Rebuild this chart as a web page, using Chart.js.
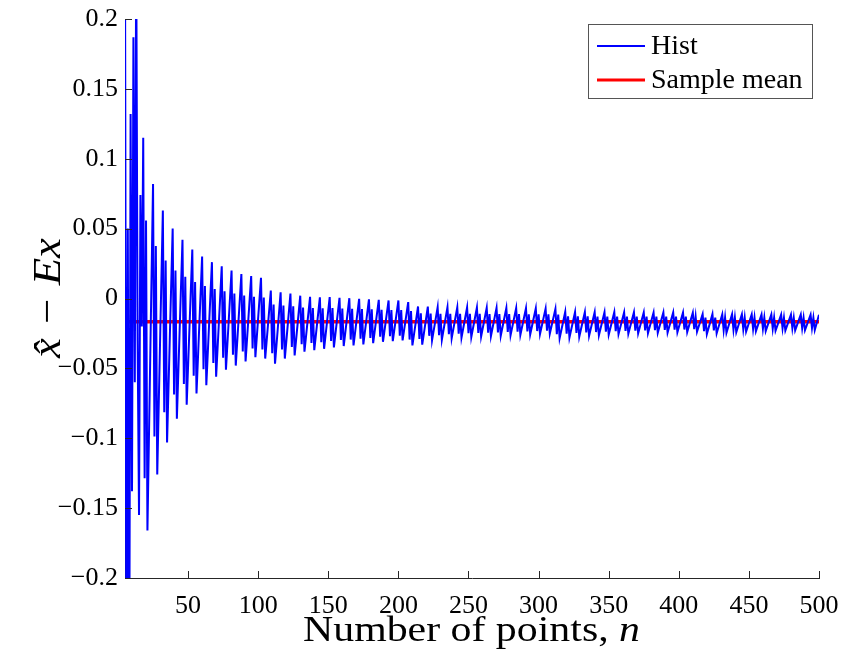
<!DOCTYPE html>
<html><head><meta charset="utf-8">
<script src="https://cdn.jsdelivr.net/npm/chart.js@4/dist/chart.umd.min.js"></script>
<style>html,body{margin:0;padding:0;background:#fff;}canvas{display:block;}</style>
</head><body>
<canvas id="c" width="846" height="651"></canvas>
<script>
// ---- data ----
const xTicks = [50,100,150,200,250,300,350,400,450,500];
const yTicks = [-0.2,-0.15,-0.1,-0.05,0,0.05,0.1,0.15,0.2];
const yTickLabels = ['\u22120.2','\u22120.15','\u22120.1','\u22120.05','0','0.05','0.1','0.15','0.2'];

// first, wild part (n = 5..17)
const earlyN   = [5,6,7,8,9,10,11,12,13,14,15,16,17];
const earlyVal = [0.25,-0.3,0.05,-0.3,0.132,-0.138,0.187,-0.06,0.25,-0.03,-0.155,0.074,-0.02];

// tall upward spike of each oscillation
const peakN = [18,25,32,39,46,53,60,67,74,81,88,95,102,109,116,123,130,137,144,151,158,165,172,179,186,193,200,207,214,221,228,235,242,249,256,263,270,277,284,291,298,305,312,319,326,333,340,347,354,361,368,375,382,389,396,403,410,417,424,431,438,445,452,459,466,473,480,487,494];
const peakVal = [0.115,0.082,0.063,0.050,0.042,0.035,0.030,0.026,0.023,0.020,0.0175,0.016,0.0148,
  0.0057,0.0045,0.0035,0.0020,0.0012,0.0008,0.0010,0.0005,0.0002,-0.0002,-0.0006,-0.0010,-0.0014,-0.0014,-0.0026,
  -0.0057,-0.0058,-0.0062,-0.0062,-0.0063,-0.0064,-0.0065,-0.0066,-0.0067,-0.0068,-0.0069,-0.0070,-0.0071,-0.0072,-0.0074,
  -0.0096,-0.0097,-0.0097,-0.0098,-0.0098,-0.0098,-0.0099,-0.0099,-0.0099,-0.0100,-0.0100,-0.0100,-0.0101,-0.0101,
  -0.0112,-0.0112,-0.0113,-0.0113,-0.0113,-0.0114,-0.0114,-0.0114,-0.0115,-0.0115,-0.0115,-0.0116];

// short dip right after each spike
const dipN = [19,26,33,40,47,54,61,68,75,82,89,96,103,110,117,124,131,138,145,152,159,166,173,180,187,194,201,208,215,222,229,236,243,250,257,264,271,278,285,292,299,306,313,320,327,334,341,348,355,362,369,376,383,390,397,404,411,418,425,432,439,446,453,460,467,474,481,488,495];
const dipVal = [-0.1287,-0.0987,-0.0814,-0.0687,-0.0612,-0.0552,-0.0507,-0.0462,-0.0424,-0.0402,-0.0379,-0.0357,-0.0364,
  -0.0392,-0.0364,-0.0347,-0.0327,-0.0319,-0.0312,-0.0304,-0.0297,-0.0294,-0.0288,-0.0282,-0.0274,-0.0270,-0.0267,
  -0.0294,-0.0289,-0.0267,-0.0263,-0.0255,-0.0252,-0.0249,-0.0246,-0.0244,-0.0242,-0.0240,-0.0237,-0.0235,-0.0233,-0.0231,
  -0.0255,-0.0252,-0.0247,-0.0243,-0.0240,-0.0237,-0.0234,-0.0232,-0.0230,-0.0228,-0.0226,-0.0225,-0.0223,-0.0222,-0.0220,
  -0.0233,-0.0229,-0.0226,-0.0223,-0.0220,-0.0218,-0.0216,-0.0215,-0.0213,-0.0212,-0.0212,-0.0211];

// lower upward shoulder next to each spike
const shoulderN = [20,27,34,41,48,55,62,69,76,83,90,97,104,111,118,125,132,139,146,153,160,167,174,181,188,195,202,209,216,223,230,237,244,251,258,265,272,279,286,293,300,307,314,321,328,335,342,349,356,363,370,377,384,391,398,405,412,419,426,433,440,447,454,461,468,475,482,489,496];
const shoulderVal = [0.0558,0.0376,0.0272,0.0200,0.0156,0.0118,0.0090,0.0068,0.0052,0.0035,0.0022,0.0013,0.0007,
  -0.0043,-0.0050,-0.0055,-0.0064,-0.0068,-0.0070,-0.0069,-0.0072,-0.0074,-0.0076,-0.0078,-0.0080,-0.0082,-0.0082,-0.0089,
  -0.0106,-0.0107,-0.0109,-0.0109,-0.0109,-0.0110,-0.0110,-0.0111,-0.0111,-0.0112,-0.0112,-0.0113,-0.0113,-0.0114,-0.0115,
  -0.0128,-0.0128,-0.0128,-0.0129,-0.0129,-0.0129,-0.0129,-0.0129,-0.0129,-0.0130,-0.0130,-0.0130,-0.0130,-0.0130,
  -0.0136,-0.0136,-0.0137,-0.0137,-0.0137,-0.0137,-0.0137,-0.0137,-0.0138,-0.0138,-0.0138,-0.0138];

// deepest point of each oscillation
const troughN = [21,28,35,42,49,56,63,70,77,84,91,98,105,112,119,126,133,140,147,154,161,168,175,182,189,196,203,210,217,224,231,238,245,252,259,266,273,280,287,294,301,308,315,322,329,336,343,350,357,364,371,378,385,392,399,406,413,420,427,434,441,448,455,462,469,476,483,490,497];
const troughVal = [-0.166,-0.126,-0.103,-0.086,-0.076,-0.068,-0.062,-0.056,-0.051,-0.048,-0.045,-0.042,-0.043,
  -0.0467,-0.043,-0.0407,-0.038,-0.037,-0.036,-0.035,-0.034,-0.0336,-0.0329,-0.032,-0.031,-0.0305,-0.030,
  -0.0336,-0.0330,-0.0300,-0.0295,-0.0285,-0.0280,-0.0276,-0.0272,-0.0270,-0.0267,-0.0264,-0.0261,-0.0258,-0.0255,-0.0252,
  -0.0285,-0.0280,-0.0274,-0.0268,-0.0264,-0.0260,-0.0256,-0.0253,-0.0250,-0.0248,-0.0246,-0.0244,-0.0242,-0.0240,-0.0238,
  -0.0255,-0.0250,-0.0246,-0.0242,-0.0238,-0.0235,-0.0233,-0.0231,-0.0229,-0.0228,-0.0227,-0.0226];

const endN = [500];
const endVal = [-0.0116];

const meanN = [5,500];
const meanVal = [-0.0166,-0.0166];

// ---- build datasets ----
const hist = [];
const addPts = (ns,vs)=>ns.forEach((n,i)=>hist.push({x:n,y:vs[i]}));
addPts(earlyN,earlyVal); addPts(peakN,peakVal); addPts(dipN,dipVal);
addPts(shoulderN,shoulderVal); addPts(troughN,troughVal); addPts(endN,endVal);
hist.sort((a,b)=>a.x-b.x);
const mean = meanN.map((n,i)=>({x:n,y:meanVal[i]}));

const FONT = '"Liberation Serif","DejaVu Serif",serif';

const decor = {
  id:'decor',
  afterDraw(chart){
    const {ctx, chartArea:a, scales:{x,y}} = chart;
    ctx.save();
    // inward ticks
    ctx.strokeStyle='#262626'; ctx.lineWidth=1;
    ctx.beginPath();
    xTicks.forEach(v=>{const px=Math.round(x.getPixelForValue(v))+0.5; ctx.moveTo(px,a.bottom); ctx.lineTo(px,a.bottom-7);});
    yTicks.forEach(v=>{const py=Math.round(y.getPixelForValue(v))+0.5; ctx.moveTo(a.left,py); ctx.lineTo(a.left+7,py);});
    ctx.stroke();
    // legend
    ctx.fillStyle='#fff';
    ctx.fillRect(588.5,24.5,224,74);
    ctx.strokeStyle='#555'; ctx.lineWidth=1;
    ctx.strokeRect(588.5,24.5,224,74);
    ctx.lineWidth=2; ctx.strokeStyle='#0000ff';
    ctx.beginPath(); ctx.moveTo(597,46); ctx.lineTo(645,46); ctx.stroke();
    ctx.lineWidth=3; ctx.strokeStyle='#ff0000';
    ctx.beginPath(); ctx.moveTo(597,80); ctx.lineTo(645,80); ctx.stroke();
    ctx.fillStyle='#000';
    ctx.font='28px '+FONT;
    ctx.textBaseline='middle'; ctx.textAlign='left';
    ctx.fillText('Hist',651,47);
    ctx.fillText('Sample mean',651,81);
    // x title (stretched horizontally like the LaTeX font)
    ctx.textBaseline='alphabetic';
    const t1='Number of points, ';
    ctx.font='36px '+FONT;
    const w1=ctx.measureText(t1).width;
    ctx.font='italic 36px '+FONT;
    const w2=ctx.measureText('n').width;
    const sc=337/(w1+w2);
    ctx.save();
    ctx.translate(303,641);
    ctx.scale(sc,1);
    ctx.font='36px '+FONT;
    ctx.fillText(t1,0,0);
    ctx.font='italic 36px '+FONT;
    ctx.fillText('n',w1,0);
    ctx.restore();
    // y title
    ctx.translate(60,298);
    ctx.rotate(-Math.PI/2);
    ctx.scale(1.12,1);
    ctx.textAlign='center';
    ctx.font='italic 40px '+FONT;
    ctx.fillText('x\u0302 \u2212 Ex',0,0);
    ctx.restore();
  }
};

new Chart(document.getElementById('c'),{
  type:'line',
  data:{datasets:[
    {label:'Hist',data:hist,borderColor:'#0000ff',borderWidth:2,pointRadius:0,tension:0,fill:false},
    {label:'Sample mean',data:mean,borderColor:'#ff0000',borderWidth:3.5,pointRadius:0,tension:0,fill:false}
  ]},
  options:{
    responsive:false,animation:false,devicePixelRatio:1,
    layout:{padding:{top:19,right:27,left:0,bottom:0}},
    plugins:{legend:{display:false},tooltip:{enabled:false}},
    scales:{
      x:{type:'linear',min:5,max:500,
        afterBuildTicks:s=>{s.ticks=xTicks.map(v=>({value:v}));},
        afterFit:s=>{s.height=73; s.paddingLeft=0; s.paddingRight=0;},
        grid:{display:false,drawTicks:false},
        border:{display:true,color:'#262626',width:1},
        ticks:{color:'#000',padding:13,maxRotation:0,autoSkip:false,font:{family:FONT,size:26},callback:(v)=>String(v)}},
      y:{type:'linear',min:-0.2,max:0.2,
        afterBuildTicks:s=>{s.ticks=yTicks.map(v=>({value:v}));},
        afterFit:s=>{s.width=125; s.paddingTop=0; s.paddingBottom=0;},
        grid:{display:false,drawTicks:false},
        border:{display:true,color:'#262626',width:1},
        ticks:{color:'#000',padding:7,autoSkip:false,font:{family:FONT,size:26},callback:(v,i)=>yTickLabels[i]}}
    }
  },
  plugins:[decor]
});
</script>
</body></html>
